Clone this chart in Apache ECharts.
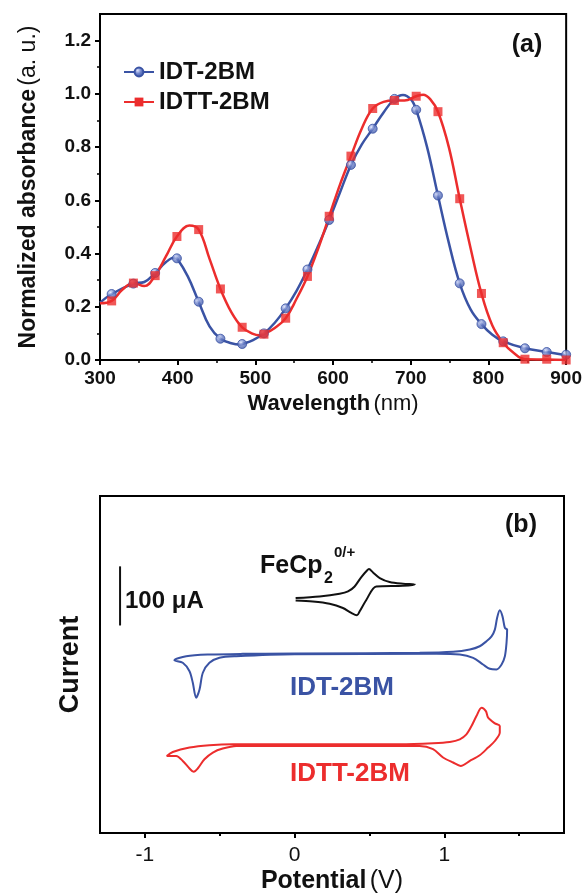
<!DOCTYPE html>
<html lang="en">
<head>
<meta charset="UTF-8">
<title>IDT-2BM / IDTT-2BM</title>
<script src="https://cdn.jsdelivr.net/npm/echarts@6/dist/echarts.min.js"></script>
<style>
  html, body { margin: 0; padding: 0; background: #fff; }
</style>
</head>
<body>
<div id="main" style="width:585px;height:895px;"></div>
<script type="text/javascript">
// ---- (a) absorbance spectra ----
var blueLineWl  = [300, 315, 343, 357, 371, 385, 396, 399, 413, 427, 441, 455, 469, 480, 483, 497, 511, 525, 539, 553, 567, 581, 595, 609, 623, 637, 651, 665, 679, 690, 700, 707, 721, 735, 749, 763, 777, 791, 805, 819, 847, 875, 900];
var blueLineAbs = [0.215, 0.248, 0.287, 0.293, 0.327, 0.368, 0.385, 0.382, 0.314, 0.219, 0.126, 0.080, 0.063, 0.058, 0.060, 0.075, 0.100, 0.140, 0.194, 0.260, 0.340, 0.430, 0.526, 0.630, 0.733, 0.810, 0.869, 0.930, 0.981, 0.996, 0.980, 0.940, 0.800, 0.618, 0.440, 0.288, 0.190, 0.135, 0.095, 0.070, 0.044, 0.030, 0.018];
var redLineWl   = [300, 315, 329, 343, 357, 371, 385, 399, 415, 427, 441, 455, 469, 483, 497, 505, 511, 525, 539, 553, 567, 581, 595, 609, 623, 637, 651, 665, 679, 692, 707, 716, 725, 735, 749, 763, 777, 791, 805, 819, 833, 847, 875, 900];
var redLineAbs  = [0.213, 0.222, 0.265, 0.289, 0.278, 0.317, 0.390, 0.464, 0.505, 0.490, 0.380, 0.267, 0.180, 0.123, 0.098, 0.093, 0.097, 0.120, 0.157, 0.230, 0.314, 0.420, 0.540, 0.660, 0.766, 0.870, 0.945, 0.970, 0.975, 0.975, 0.991, 0.997, 0.980, 0.933, 0.800, 0.606, 0.420, 0.250, 0.130, 0.065, 0.025, 0.003, 0.002, 0.000];
// symbols are drawn every ~28 nm
var markWl   = [315, 343, 371, 399, 427, 455, 483, 511, 539, 567, 595, 623, 651, 679, 707, 735, 763, 791, 819, 847, 875, 900];
var blueMark = [0.248, 0.287, 0.327, 0.382, 0.219, 0.080, 0.060, 0.100, 0.194, 0.340, 0.526, 0.733, 0.869, 0.981, 0.940, 0.618, 0.288, 0.135, 0.070, 0.044, 0.030, 0.020];
var redMark  = [0.222, 0.289, 0.317, 0.464, 0.490, 0.267, 0.123, 0.097, 0.157, 0.314, 0.540, 0.766, 0.945, 0.975, 0.991, 0.933, 0.606, 0.250, 0.065, 0.003, 0.003, 0.000];
var absTicks      = [0, 0.2, 0.4, 0.6, 0.8, 1.0, 1.2];
var absMinorTicks = [0.1, 0.3, 0.5, 0.7, 0.9, 1.1];

// ---- (b) cyclic voltammograms (current in uA, arbitrary offset) ----
var fcV  = [0.007, 0.167, 0.301, 0.357, 0.401, 0.446, 0.484, 0.497, 0.524, 0.569, 0.635, 0.724, 0.803, 0.724, 0.546, 0.480, 0.435, 0.417, 0.379, 0.323, 0.234, 0.122, 0.007];
var fcI  = [397.5, 400.2, 404.7, 408.6, 417.0, 432.9, 444.0, 446.4, 440.6, 431.2, 424.5, 421.6, 420.4, 418.2, 417.0, 394.6, 374.9, 368.1, 372.2, 380.6, 387.9, 391.7, 393.4];
var idtV = [0, 0.836, 1.059, 1.171, 1.237, 1.282, 1.316, 1.338, 1.353, 1.371, 1.389, 1.405, 1.420, 1.416, 1.405, 1.383, 1.349, 1.304, 1.259, 1.193, 1.104, 0.948, 0, -0.390, -0.502, -0.569, -0.613, -0.635, -0.658, -0.680, -0.702, -0.747, -0.803, -0.724, -0.569, -0.346, 0];
var idtI = [303.5, 304.7, 306.4, 310.3, 315.9, 324.3, 332.7, 344.0, 363.7, 376.6, 366.4, 346.9, 344.0, 321.6, 299.0, 285.0, 276.6, 277.7, 285.0, 296.3, 301.9, 303.0, 302.4, 299.0, 296.3, 287.9, 271.0, 242.8, 228.8, 254.1, 273.7, 287.9, 292.2, 299.0, 301.9, 303.0, 303.5];
var idttV = [0, 0.702, 0.925, 1.037, 1.104, 1.148, 1.182, 1.215, 1.249, 1.278, 1.293, 1.338, 1.371, 1.371, 1.338, 1.293, 1.237, 1.171, 1.110, 1.059, 0.992, 0.925, 0.836, 0, -0.390, -0.480, -0.546, -0.602, -0.647, -0.674, -0.702, -0.747, -0.791, -0.854, -0.814, -0.702, -0.569, -0.413, 0];
var idttI = [150.1, 150.1, 151.8, 154.0, 158.5, 166.9, 180.9, 197.8, 212.0, 206.2, 195.1, 185.5, 180.9, 169.8, 155.6, 144.5, 131.5, 121.9, 113.5, 119.2, 127.7, 141.7, 147.2, 147.2, 147.2, 142.8, 136.1, 124.8, 109.1, 103.4, 109.1, 121.9, 130.4, 130.4, 137.1, 144.5, 148.4, 150.1, 150.1];
var scaleBarV = [-1.166, -1.166];
var scaleBarI = [351, 451];   // 100 uA
var potTicks      = [-1, 0, 1];
var potMinorTicks = [-0.5, 0.5, 1.5];

var BLUE = '#3a53a4';
var RED = '#ec2d2d';
var FONT = 'Liberation Sans, Arial, Helvetica, sans-serif';

function zip(a, b) {
    var out = [];
    for (var i = 0; i < a.length; i++) out.push([a[i], b[i]]);
    return out;
}

var blueBall = {
    type: 'radial', x: 0.38, y: 0.35, r: 0.7,
    colorStops: [{ offset: 0, color: '#dfe5ff' }, { offset: 0.45, color: '#6d82c9' }, { offset: 1, color: BLUE }]
};

var myChart = echarts.init(document.getElementById('main'));

myChart.setOption({
    backgroundColor: '#fff',
    animation: false,
    textStyle: { fontFamily: FONT },
    grid: [
        { left: 100, top: 14, width: 468, height: 346, show: true, borderColor: '#000', borderWidth: 2, backgroundColor: 'transparent' },
        { left: 100, top: 496, width: 464, height: 338, show: true, borderColor: '#000', borderWidth: 2, backgroundColor: 'transparent' }
    ],
    legend: {
        data: ['IDT-2BM', 'IDTT-2BM'],
        orient: 'vertical',
        left: 118,
        top: 55,
        itemWidth: 30,
        itemHeight: 11,
        itemGap: 6,
        textStyle: { fontSize: 24, fontWeight: 'bold', color: '#111', fontFamily: FONT }
    },
    xAxis: [
        {
            gridIndex: 0, type: 'value', position: 'bottom', min: 300, max: 900, interval: 100,
            name: '{b|Wavelength} {n|(nm)}', nameLocation: 'middle', nameGap: 33,
            nameTextStyle: { rich: {
                b: { fontSize: 22, fontWeight: 'bold', color: '#111', fontFamily: FONT },
                n: { fontSize: 22, color: '#111', fontFamily: FONT }
            } },
            axisLine: { onZero: false, lineStyle: { color: '#000', width: 2 } },
            axisTick: { inside: false, length: 5, lineStyle: { color: '#000', width: 2 } },
            minorTick: { show: true, splitNumber: 2, length: 3, lineStyle: { color: '#000', width: 1.5 } },
            axisLabel: { fontSize: 19, fontWeight: 'bold', color: '#111', margin: 9 },
            splitLine: { show: false }
        },
        {
            gridIndex: 1, type: 'value', position: 'bottom', min: -1.3, max: 1.8,
            name: '{b|Potential} {n|(V)}', nameLocation: 'middle', nameGap: 36,
            nameTextStyle: { rich: {
                b: { fontSize: 25, fontWeight: 'bold', color: '#111', fontFamily: FONT },
                n: { fontSize: 25, color: '#111', fontFamily: FONT }
            } },
            axisLine: { onZero: false, lineStyle: { color: '#000', width: 2 } },
            axisTick: { inside: false, length: 5, customValues: potTicks, lineStyle: { color: '#000', width: 2 } },
            axisLabel: { fontSize: 21, color: '#111', margin: 12, customValues: potTicks },
            splitLine: { show: false }
        },
        {
            gridIndex: 1, type: 'value', position: 'bottom', min: -1.3, max: 1.8,
            axisLine: { show: false, onZero: false },
            axisTick: { inside: false, length: 3, customValues: potMinorTicks, lineStyle: { color: '#000', width: 2 } },
            axisLabel: { show: false },
            splitLine: { show: false }
        }
    ],
    yAxis: [
        {
            gridIndex: 0, type: 'value', position: 'left', min: 0, max: 1.3,
            name: '{b|Normalized absorbance} {n|(a. u.)}', nameLocation: 'middle', nameGap: 60,
            nameTextStyle: { rich: {
                b: { fontSize: 23, fontWeight: 'bold', color: '#111', fontFamily: FONT },
                n: { fontSize: 23, color: '#111', fontFamily: FONT }
            } },
            axisLine: { show: true, onZero: false, lineStyle: { color: '#000', width: 2 } },
            axisTick: { show: true, inside: false, length: 5, customValues: absTicks, lineStyle: { color: '#000', width: 2 } },
            axisLabel: { fontSize: 19, fontWeight: 'bold', color: '#111', margin: 9, customValues: absTicks,
                formatter: function (v) { return v.toFixed(1); } },
            splitLine: { show: false }
        },
        {
            gridIndex: 0, type: 'value', position: 'left', min: 0, max: 1.3,
            axisLine: { show: false, onZero: false },
            axisTick: { show: true, inside: false, length: 3, customValues: absMinorTicks, lineStyle: { color: '#000', width: 1.5 } },
            axisLabel: { show: false },
            splitLine: { show: false }
        },
        {
            gridIndex: 1, type: 'value', position: 'left', min: 0, max: 570,
            name: 'Current', nameLocation: 'middle', nameGap: 16,
            nameTextStyle: { fontSize: 27, fontWeight: 'bold', color: '#111', fontFamily: FONT },
            axisLine: { show: true, onZero: false, lineStyle: { color: '#000', width: 2 } },
            axisTick: { show: false },
            axisLabel: { show: false },
            splitLine: { show: false }
        }
    ],
    series: [
        {
            name: 'IDT-2BM', type: 'line', xAxisIndex: 0, yAxisIndex: 0,
            data: zip(blueLineWl, blueLineAbs), smooth: 0.4,
            showSymbol: false, symbol: 'circle',
            lineStyle: { color: BLUE, width: 2.5 },
            itemStyle: { color: blueBall, borderColor: BLUE, borderWidth: 1 }
        },
        {
            name: 'IDTT-2BM', type: 'line', xAxisIndex: 0, yAxisIndex: 0,
            data: zip(redLineWl, redLineAbs), smooth: 0.4,
            showSymbol: false, symbol: 'rect',
            lineStyle: { color: RED, width: 2.5 },
            itemStyle: { color: RED }
        },
        {
            name: 'IDT-2BM marks', type: 'scatter', xAxisIndex: 0, yAxisIndex: 0,
            data: zip(markWl, blueMark), symbol: 'circle', symbolSize: 9, z: 5,
            itemStyle: { color: blueBall, borderColor: BLUE, borderWidth: 1 }
        },
        {
            name: 'IDTT-2BM marks', type: 'scatter', xAxisIndex: 0, yAxisIndex: 0,
            data: zip(markWl, redMark), symbol: 'rect', symbolSize: 9, z: 5,
            itemStyle: { color: RED }
        },
        {
            name: 'FeCp2', type: 'line', xAxisIndex: 1, yAxisIndex: 2,
            data: zip(fcV, fcI), smooth: 0.3, showSymbol: false, symbol: 'none',
            lineStyle: { color: '#111', width: 2 }
        },
        {
            name: 'IDT-2BM CV', type: 'line', xAxisIndex: 1, yAxisIndex: 2,
            data: zip(idtV, idtI), smooth: 0.3, showSymbol: false, symbol: 'none',
            lineStyle: { color: BLUE, width: 2 }
        },
        {
            name: 'IDTT-2BM CV', type: 'line', xAxisIndex: 1, yAxisIndex: 2,
            data: zip(idttV, idttI), smooth: 0.3, showSymbol: false, symbol: 'none',
            lineStyle: { color: RED, width: 2 }
        },
        {
            name: 'scale', type: 'line', xAxisIndex: 1, yAxisIndex: 2,
            data: zip(scaleBarV, scaleBarI), showSymbol: false, symbol: 'none',
            lineStyle: { color: '#111', width: 2 }
        }
    ],
    graphic: [
        { type: 'text', style: { x: 527, y: 45, text: '(a)', font: 'bold 25px ' + FONT, fill: '#111', textAlign: 'center', textVerticalAlign: 'middle' } },
        { type: 'text', style: { x: 521, y: 525, text: '(b)', font: 'bold 25px ' + FONT, fill: '#111', textAlign: 'center', textVerticalAlign: 'middle' } },
        { type: 'text', style: { x: 125, y: 601, text: '100 \u03bcA', font: 'bold 24px ' + FONT, fill: '#111', textAlign: 'left', textVerticalAlign: 'middle' } },
        { type: 'text', style: { x: 260, y: 566, text: 'FeCp', font: 'bold 25px ' + FONT, fill: '#111', textAlign: 'left', textVerticalAlign: 'middle' } },
        { type: 'text', style: { x: 324, y: 579, text: '2', font: 'bold 16px ' + FONT, fill: '#111', textAlign: 'left', textVerticalAlign: 'middle' } },
        { type: 'text', style: { x: 334, y: 553, text: '0/+', font: 'bold 15px ' + FONT, fill: '#111', textAlign: 'left', textVerticalAlign: 'middle' } },
        { type: 'text', style: { x: 290, y: 688, text: 'IDT-2BM', font: 'bold 26px ' + FONT, fill: BLUE, textAlign: 'left', textVerticalAlign: 'middle' } },
        { type: 'text', style: { x: 290, y: 774, text: 'IDTT-2BM', font: 'bold 26px ' + FONT, fill: RED, textAlign: 'left', textVerticalAlign: 'middle' } }
    ]
});
</script>
</body>
</html>
